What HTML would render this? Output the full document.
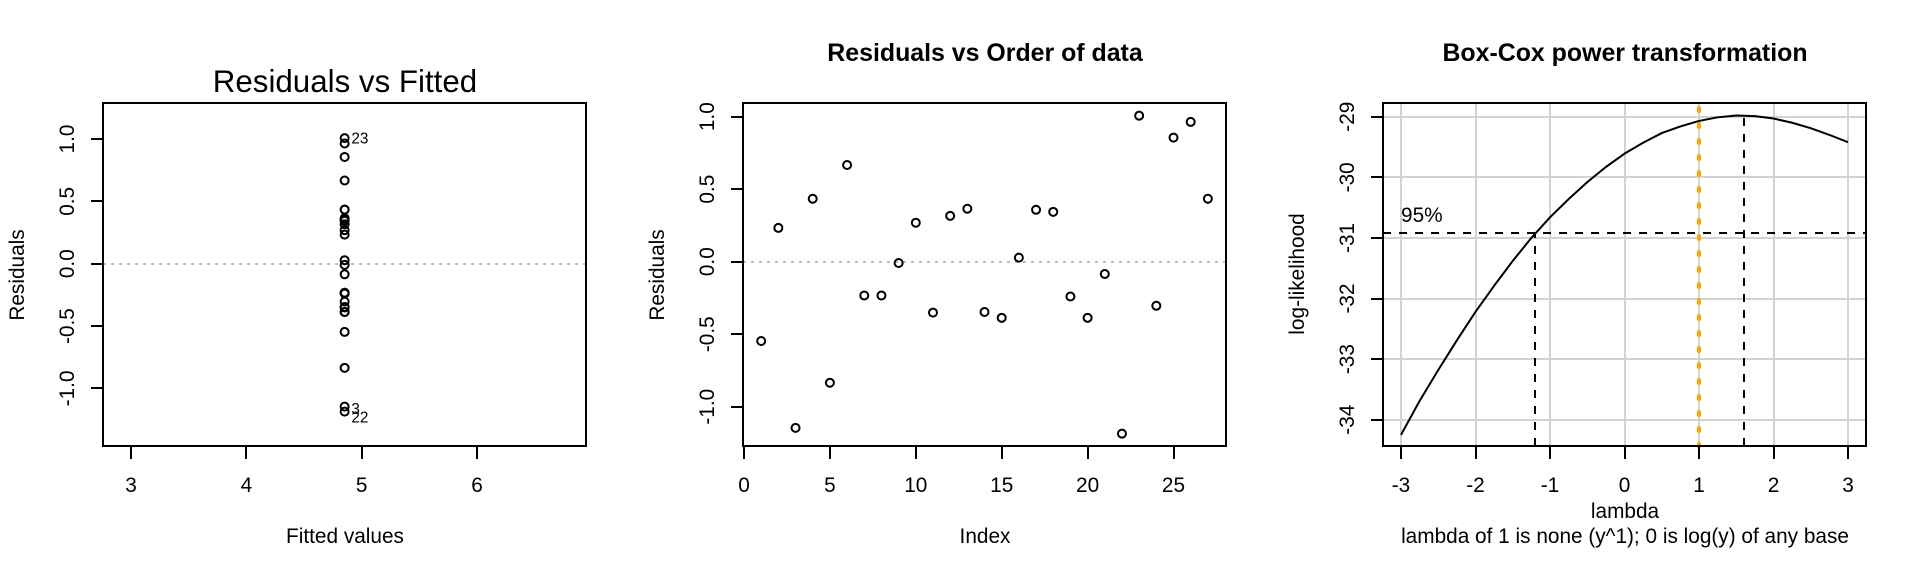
<!DOCTYPE html>
<html lang="en">
<head>
<meta charset="utf-8">
<title>Regression diagnostics</title>
<style>
  html, body { margin: 0; padding: 0; background: #fff; }
  body { width: 1920px; height: 576px; overflow: hidden; }
  svg { display: block; font-family: "Liberation Sans", Arial, sans-serif; }
  text { fill: #000; }
  .crisp { shape-rendering: crispEdges; }
  .frame { fill: none; stroke: #000; stroke-width: 2; shape-rendering: crispEdges; }
  .axis-label { font-size: 20.8px; }
  .tick-label { font-size: 20.8px; }
  .title-main { font-size: 31.3px; }
  .title-bold { font-size: 24.9px; font-weight: 700; }
</style>
</head>
<body>
<svg id="chart" xmlns="http://www.w3.org/2000/svg" width="1920" height="576" viewBox="0 0 1920 576">
  <rect x="0" y="0" width="1920" height="576" fill="#fff"/>

  <g id="panel1">
    <text class="title-main" x="345" y="92" text-anchor="middle">Residuals vs Fitted</text>
    <text class="axis-label" x="345" y="543" text-anchor="middle">Fitted values</text>
    <text class="axis-label" transform="translate(24,275) rotate(-90)" text-anchor="middle">Residuals</text>
  </g>

  <g id="panel2">
    <text class="title-bold" x="985" y="61" text-anchor="middle">Residuals vs Order of data</text>
    <text class="axis-label" x="985" y="543" text-anchor="middle">Index</text>
    <text class="axis-label" transform="translate(664,275) rotate(-90)" text-anchor="middle">Residuals</text>
  </g>

  <g id="panel3">
    <text class="title-bold" x="1625" y="61" text-anchor="middle">Box-Cox power transformation</text>
    <text class="axis-label" x="1625" y="518" text-anchor="middle">lambda</text>
    <text class="axis-label" x="1625" y="543" text-anchor="middle">lambda of 1 is none (y^1); 0 is log(y) of any base</text>
    <text class="axis-label" transform="translate(1304,274) rotate(-90)" text-anchor="middle">log-likelihood</text>
  </g>
</svg>

<script>
const residuals = [-0.547, 0.233, -1.146, 0.434, -0.835, 0.667, -0.233, -0.233, -0.009, 0.269, -0.351, 0.316, 0.365, -0.347, -0.387, 0.028, 0.358, 0.344, -0.240, -0.387, -0.085, -1.186, 1.007, -0.304, 0.856, 0.964, 0.434];
const fittedValues = [4.852, 4.852, 4.852, 4.852, 4.852, 4.852, 4.852, 4.852, 4.852, 4.852, 4.852, 4.852, 4.852, 4.852, 4.852, 4.852, 4.852, 4.852, 4.852, 4.852, 4.852, 4.852, 4.852, 4.852, 4.852, 4.852, 4.852];
const observationIndex = [1, 2, 3, 4, 5, 6, 7, 8, 9, 10, 11, 12, 13, 14, 15, 16, 17, 18, 19, 20, 21, 22, 23, 24, 25, 26, 27];
const labelledObservations = [23, 3, 22];

const fittedTicks = [3, 4, 5, 6];
const fittedTickLabels = ['3', '4', '5', '6'];
const residualTicks = [-1, -0.5, 0, 0.5, 1];
const residualTickLabels = ['-1.0', '-0.5', '0.0', '0.5', '1.0'];
const indexTicks = [0, 5, 10, 15, 20, 25];
const indexTickLabels = ['0', '5', '10', '15', '20', '25'];

const lambdaValues = [-3, -2.75, -2.5, -2.25, -2, -1.75, -1.5, -1.25, -1, -0.75, -0.5, -0.25, 0, 0.25, 0.5, 0.75, 1, 1.25, 1.5, 1.75, 2, 2.25, 2.5, 2.75, 3];
const logLikelihood = [-34.25, -33.69, -33.18, -32.69, -32.22, -31.79, -31.38, -31.00, -30.66, -30.36, -30.08, -29.83, -29.61, -29.43, -29.27, -29.16, -29.07, -29.01, -28.98, -28.99, -29.03, -29.10, -29.19, -29.30, -29.42];
const lambdaTicks = [-3, -2, -1, 0, 1, 2, 3];
const lambdaTickLabels = ['-3', '-2', '-1', '0', '1', '2', '3'];
const logLikTicks = [-34, -33, -32, -31, -30, -29];
const logLikTickLabels = ['-34', '-33', '-32', '-31', '-30', '-29'];
const confidenceLambdas = [-1.2, 1.61];
const confidenceCutoff = [-30.92];
const referenceLambda = [1];
const zeroLine = [0];

const NS = 'http://www.w3.org/2000/svg';
const boxTop = 103, boxBottom = 446;
const box1 = { left: 103, right: 586 };
const box2 = { left: 743, right: 1226 };
const box3 = { left: 1383, right: 1866 };

const x1 = v => 361.7 + (v - 5) * 115.3;
const y1 = v => 263.7 - v * 124.7;
const x2 = v => 744 + v * 17.18;
const y2 = v => 261.7 - v * 145;
const x3 = v => 1624.5 + v * 74.5;
const y3 = v => 116.7 + (-29 - v) * 60.6;

function make(parent, tag, attrs, content) {
  const el = document.createElementNS(NS, tag);
  for (const k in attrs) el.setAttribute(k, attrs[k]);
  if (content !== undefined) el.textContent = content;
  parent.appendChild(el);
  return el;
}

function strokeLine(parent, a, b, c, d, color, width, dash) {
  const attrs = { x1: a, y1: b, x2: c, y2: d, stroke: color, 'stroke-width': width };
  if (dash) attrs['stroke-dasharray'] = dash;
  return make(parent, 'line', attrs);
}

function drawXTicks(parent, ticks, labels, scale) {
  ticks.forEach((t, i) => {
    const px = Math.round(scale(t));
    const tick = strokeLine(parent, px, boxBottom, px, boxBottom + 13, '#000', 2);
    tick.setAttribute('class', 'crisp');
    
    
    const label = make(parent, 'text', { class: 'tick-label', x: scale(t), y: 492, 'text-anchor': 'middle' }, labels[i]);
    
    
  });
}

function drawYTicks(parent, ticks, labels, scale, left) {
  ticks.forEach((t, i) => {
    const py = Math.round(scale(t));
    const tick = strokeLine(parent, left - 12, py, left, py, '#000', 2);
    tick.setAttribute('class', 'crisp');
    
    
    const label = make(parent, 'text', { class: 'tick-label', transform: 'translate(' + (left - 29) + ',' + scale(t) + ') rotate(-90)', 'text-anchor': 'middle' }, labels[i]);
    
    
  });
}

function drawFrame(parent, box) {
  const frame = make(parent, 'rect', { class: 'frame', x: box.left, y: boxTop, width: box.right - box.left, height: boxBottom - boxTop });
  
  
}

function drawPoint(parent, cx, cy) {
  const point = make(parent, 'circle', { cx: cx, cy: cy, r: 4, fill: 'none', stroke: '#000', 'stroke-width': 2 });
  
  
}

/* Panel 1: residuals vs fitted */
const panel1 = document.getElementById('panel1');
const zero1 = strokeLine(panel1, box1.left, Math.round(y1(zeroLine[0])), box1.right, Math.round(y1(zeroLine[0])), '#bebebe', 2, '3 5');
zero1.setAttribute('class', 'crisp');


residuals.forEach((r, i) => drawPoint(panel1, x1(fittedValues[i]), y1(r)));
labelledObservations.forEach(obs => {
  const idx = observationIndex.indexOf(obs);
  const dy = obs === 23 ? 5.2 : obs === 3 ? 7.4 : 11;
  const outlier = make(panel1, 'text', { x: x1(fittedValues[idx]) + 6.8, y: y1(residuals[idx]) + dy, 'font-size': '15.3px' }, String(obs));
  
  
});
drawXTicks(panel1, fittedTicks, fittedTickLabels, x1);
drawYTicks(panel1, residualTicks, residualTickLabels, y1, box1.left);
drawFrame(panel1, box1);

/* Panel 2: residuals vs order */
const panel2 = document.getElementById('panel2');
const zero2 = strokeLine(panel2, box2.left, Math.round(y2(zeroLine[0])), box2.right, Math.round(y2(zeroLine[0])), '#bebebe', 2, '3 5');
zero2.setAttribute('class', 'crisp');


residuals.forEach((r, i) => drawPoint(panel2, x2(observationIndex[i]), y2(r)));
drawXTicks(panel2, indexTicks, indexTickLabels, x2);
drawYTicks(panel2, residualTicks, residualTickLabels, y2, box2.left);
drawFrame(panel2, box2);

/* Panel 3: Box-Cox */
const panel3 = document.getElementById('panel3');
lambdaTicks.forEach(t => {
  const grid = strokeLine(panel3, Math.round(x3(t)), boxTop, Math.round(x3(t)), boxBottom, '#d3d3d3', 2);
  grid.setAttribute('class', 'crisp');
  
  
});
logLikTicks.forEach(t => {
  const grid = strokeLine(panel3, box3.left, Math.round(y3(t)), box3.right, Math.round(y3(t)), '#d3d3d3', 2);
  grid.setAttribute('class', 'crisp');
  
  
});
const curve = make(panel3, 'polyline', {
  points: lambdaValues.map((l, i) => x3(l).toFixed(2) + ',' + y3(logLikelihood[i]).toFixed(2)).join(' '),
  fill: 'none', stroke: '#000', 'stroke-width': 2, 'stroke-linejoin': 'round'
});



const cutoffLine = strokeLine(panel3, box3.left, Math.round(y3(confidenceCutoff[0])), box3.right, Math.round(y3(confidenceCutoff[0])), '#000', 2, '8 8');
cutoffLine.setAttribute('class', 'crisp');



const ciLow = strokeLine(panel3, Math.round(x3(confidenceLambdas[0])), boxBottom, Math.round(x3(confidenceLambdas[0])), y3(confidenceCutoff[0]), '#000', 2, '8 8');
ciLow.setAttribute('class', 'crisp');



const best = logLikelihood[lambdaValues.indexOf(1.5)];
const ciHigh = strokeLine(panel3, Math.round(x3(confidenceLambdas[1])), boxBottom, Math.round(x3(confidenceLambdas[1])), y3(best), '#000', 2, '8 8');
ciHigh.setAttribute('class', 'crisp');



const refLine = make(panel3, 'line', {
  x1: Math.round(x3(referenceLambda[0])), y1: 108, x2: Math.round(x3(referenceLambda[0])), y2: boxBottom,
  stroke: '#ffa500', 'stroke-width': 4, 'stroke-dasharray': '3 13', 'stroke-dashoffset': 0, 'stroke-linecap': 'round'
});



const pct = make(panel3, 'text', { x: x3(lambdaTicks[0]), y: y3(confidenceCutoff[0]) - 11, 'font-size': '20.8px' }, '95%');



drawXTicks(panel3, lambdaTicks, lambdaTickLabels, x3);
drawYTicks(panel3, logLikTicks, logLikTickLabels, y3, box3.left);
drawFrame(panel3, box3);
</script>
</body>
</html>
